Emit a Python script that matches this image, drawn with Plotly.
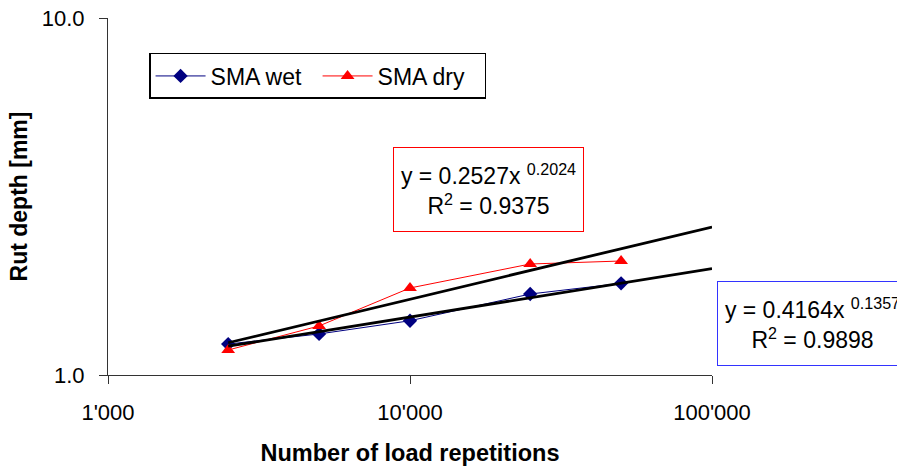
import plotly.graph_objects as go

# ---- data ----
load_reps = [2500, 5000, 10000, 25000, 50000]
sma_wet = [1.221, 1.303, 1.419, 1.686, 1.806]
sma_dry = [1.175, 1.372, 1.753, 2.046, 2.086]

# power-law trendlines reported on the chart: y = a * x^b
wet_a, wet_b, wet_r2 = 0.4164, 0.1357, 0.9898
dry_a, dry_b, dry_r2 = 0.2527, 0.2024, 0.9375
trend_x = [2500, 100000]

x_ticks = [1000, 10000, 100000]
x_ticktext = ["1'000", "10'000", "100'000"]
y_ticks = [1, 10]
y_ticktext = ["1.0", "10.0"]

FONT = "Liberation Sans, Arial, sans-serif"

fig = go.Figure()
fig.add_trace(go.Scatter(
    x=load_reps, y=sma_wet, mode="lines+markers", name="SMA wet",
    line=dict(color="#000080", width=1),
    marker=dict(symbol="diamond", size=11, color="#000080"),
))
fig.add_trace(go.Scatter(
    x=load_reps, y=sma_dry, mode="lines+markers", name="SMA dry",
    line=dict(color="#ff0000", width=1),
    marker=dict(symbol="triangle-up", size=12, color="#ff0000"),
))
fig.add_trace(go.Scatter(
    x=trend_x, y=[dry_a * v ** dry_b for v in trend_x], mode="lines",
    line=dict(color="black", width=2.8), showlegend=False, hoverinfo="skip",
))
fig.add_trace(go.Scatter(
    x=trend_x, y=[wet_a * v ** wet_b for v in trend_x], mode="lines",
    line=dict(color="black", width=2.8), showlegend=False, hoverinfo="skip",
))

axis_common = dict(
    showline=True, linecolor="#333333", linewidth=1, ticks="outside",
    ticklen=8, tickcolor="#333333", showgrid=False, zeroline=False,
    tickfont=dict(size=22, color="black", family=FONT),
    mirror=False, automargin=False,
)

fig.update_xaxes(
    type="log", range=[3, 5], tickvals=x_ticks, ticktext=x_ticktext,
    title=dict(text="<b>Number of load repetitions</b>",
               font=dict(size=23.5, color="black", family=FONT), standoff=20),
    ticklabelstandoff=10,
    **axis_common,
)
fig.update_yaxes(
    type="log", range=[0, 1], tickvals=y_ticks, ticktext=y_ticktext,
    title=dict(text="<b>Rut depth [mm]</b>",
               font=dict(size=23, color="black", family=FONT), standoff=7),
    ticklabelstandoff=10,
    **axis_common,
)

fig.add_annotation(
    xref="paper", yref="paper", x=0.63, y=0.5196, xanchor="center", yanchor="middle",
    text=f"y = {dry_a:.4f}x <sup>{dry_b:.4f}</sup><br>R<sup>2</sup> = {dry_r2:.4f}",
    showarrow=False, align="center",
    font=dict(size=23, color="black", family=FONT),
    bordercolor="#ff0000", borderwidth=1, borderpad=4, bgcolor="white",
    width=181, height=75,
)
fig.add_annotation(
    xref="paper", yref="paper", x=1.1664, y=0.1443, xanchor="center", yanchor="middle",
    text=f"y = {wet_a:.4f}x <sup>{wet_b:.4f}</sup><br>R<sup>2</sup> = {wet_r2:.4f}",
    showarrow=False, align="center",
    font=dict(size=23, color="black", family=FONT),
    bordercolor="#3333ff", borderwidth=1, borderpad=4, bgcolor="white",
    width=181, height=75,
)

fig.update_layout(
    width=897, height=470,
    margin=dict(l=108, r=185, t=18, b=95, autoexpand=False),
    paper_bgcolor="white", plot_bgcolor="white",
    font=dict(family=FONT, color="black"),
    showlegend=True,
    legend=dict(
        orientation="h", x=0.068, y=0.902, xanchor="left", yanchor="top",
        bordercolor="black", borderwidth=1.5, bgcolor="white",
        font=dict(size=23, color="black", family=FONT),
        itemwidth=50, entrywidth=102, entrywidthmode="pixels",
    ),
)

fig.write_html("out.html")
